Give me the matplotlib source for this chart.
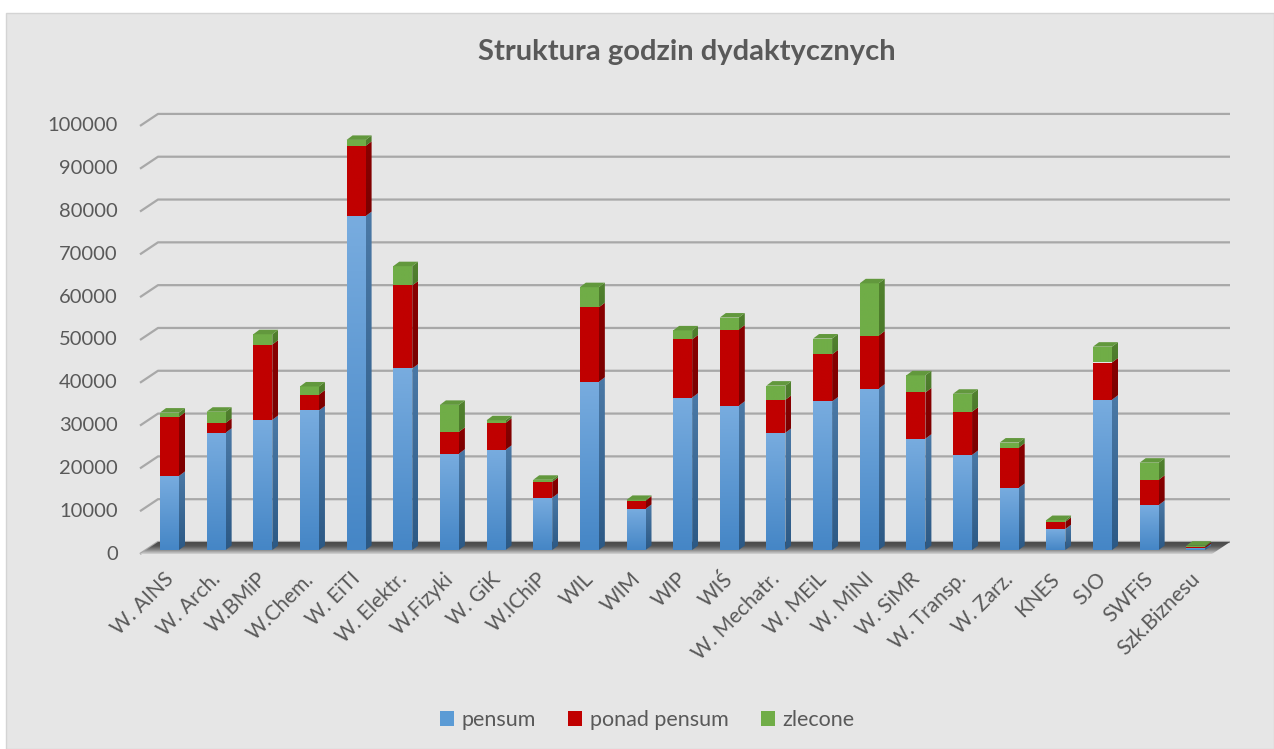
import matplotlib.pyplot as plt
import numpy as np
from matplotlib.patches import Polygon, Rectangle, Patch
from matplotlib.colors import LinearSegmentedColormap

plt.rcParams['font.family'] = ['Lato', 'DejaVu Sans']

categories = ["W. AINS", "W. Arch.", "W.BMiP", "W.Chem.", "W. EiTI", "W. Elektr.",
              "W.Fizyki", "W. GiK", "W.IChiP", "WIL", "WIM", "WIP", "WIŚ",
              "W. Mechatr.", "W. MEiL", "W. MiNI", "W. SiMR", "W. Transp.",
              "W. Zarz.", "KNES", "SJO", "SWFiS", "Szk.Biznesu"]
pensum = [17300, 27400, 30400, 32600, 78000, 42400, 22500, 23400, 12200, 39300,
          9600, 35600, 33700, 27400, 34700, 37700, 26000, 22200, 14500, 4900,
          35100, 10500, 500]
ponad_pensum = [13800, 2300, 17600, 3700, 16400, 19400, 5100, 6300, 3700, 17400,
                1900, 13600, 17800, 7700, 11000, 12400, 10800, 10100, 9400, 1700,
                8700, 5900, 300]
zlecone = [1000, 2600, 2400, 1900, 1400, 4500, 6300, 600, 500, 4700,
           200, 2100, 2800, 3300, 3700, 12200, 4000, 4200, 1200, 400,
           3700, 4000, 200]
series_names = ["pensum", "ponad pensum", "zlecone"]
y_ticks = list(range(0, 100001, 10000))

W, H = 1274, 749
PX_X = 1 / 46.65      # category units per pixel
PX_Y = 233.6          # value units per pixel
X0_PX, Y0_PX = 169.5, 550   # first bar centre / bar base in pixels

TEXT = '#595959'
GRID = '#a8a8a8'

# face colours: (front top, front bottom, side top, side bottom, top)
styles = [
    ('#78acdf', '#4586c6', '#4b79a6', '#2c5985', None),
    ('#c00000', '#c00000', '#8a0000', '#7a0000', None),
    ('#70ad47', '#70ad47', '#52822f', '#4b7a2b', '#62983d'),
]


def grad_fill(ax, verts, c_top, c_bot, z):
    poly = Polygon(verts, closed=True, facecolor='none', edgecolor='none')
    ax.add_patch(poly)
    xs = [v[0] for v in verts]
    ys = [v[1] for v in verts]
    cmap = LinearSegmentedColormap.from_list('g', [c_bot, c_top])
    im = ax.imshow(np.linspace(0, 1, 64).reshape(-1, 1), cmap=cmap, origin='lower',
                   extent=[min(xs), max(xs), min(ys), max(ys)], aspect='auto',
                   interpolation='bilinear', zorder=z)
    im.set_clip_path(poly)


fig = plt.figure(figsize=(W / 100, H / 100), dpi=100)
fig.patch.set_facecolor('white')
fig.add_artist(Rectangle((6 / W, 0), (W - 6) / W, (H - 13) / H, transform=fig.transFigure,
                         facecolor='#e6e6e6', edgecolor='#d4d4d4', lw=1, zorder=0))

ax = fig.add_axes([0, 0, 1, 1])
ax.patch.set_visible(False)
ax.axis('off')

# depth of walls and bars
wall_dx, wall_dy = 18 * PX_X, 12 * PX_Y
front_off = -4 * PX_Y
x_left = (140 - X0_PX) * PX_X
x_right = (1230 - X0_PX) * PX_X
x_floor_front_right = (1212 - X0_PX) * PX_X

for v in y_ticks:
    yf = v + front_off
    ax.plot([x_left, x_left + wall_dx, x_right], [yf, yf + wall_dy, yf + wall_dy],
            color=GRID, lw=1.6, zorder=1, solid_capstyle='butt')
    ax.text((118 - X0_PX) * PX_X, yf, str(v), ha='right', va='center',
            fontsize=14.5, color=TEXT)

# floor
floor = [(x_left, front_off), (x_floor_front_right, front_off),
         (x_right, front_off + wall_dy), (x_left + wall_dx, front_off + wall_dy)]
poly = Polygon(floor, closed=True, facecolor='none', edgecolor='none')
ax.add_patch(poly)
fcmap = LinearSegmentedColormap.from_list('floor', ['#d4d4d4', '#8a8a8a', '#555555', '#4a4a4a'])
im = ax.imshow(np.linspace(0, 1, 64).reshape(-1, 1), cmap=fcmap, origin='lower',
               extent=[x_left, x_right, front_off, front_off + wall_dy], aspect='auto',
               interpolation='bilinear', zorder=2)
im.set_clip_path(poly)

# bars
hw = 9.5 * PX_X
bdx, bdy = 6 * PX_X, 4.5 * PX_Y
data = [pensum, ponad_pensum, zlecone]
for i in range(len(categories)):
    bottom = 0
    for s, vals in enumerate(data):
        top = bottom + vals[i]
        ft, fb, st, sb, tc = styles[s]
        front = [(i - hw, bottom), (i + hw, bottom), (i + hw, top), (i - hw, top)]
        side = [(i + hw, bottom), (i + hw + bdx, bottom + bdy),
                (i + hw + bdx, top + bdy), (i + hw, top)]
        grad_fill(ax, front, ft, fb, 3)
        grad_fill(ax, side, st, sb, 3)
        if s == len(data) - 1:
            ax.add_patch(Polygon([(i - hw, top), (i + hw, top), (i + hw + bdx, top + bdy),
                                  (i - hw + bdx, top + bdy)], closed=True,
                                 facecolor=tc, edgecolor='none', zorder=3))
        bottom = top
    ax.text(i + 1 * PX_X, -26 * PX_Y, categories[i], rotation=45, rotation_mode='anchor',
            ha='right', va='center', fontsize=15, color=TEXT)

ax.set_xlim(-X0_PX * PX_X, (W - X0_PX) * PX_X)
ax.set_ylim(-(H - Y0_PX) * PX_Y, Y0_PX * PX_Y)

fig.text(687 / W, 1 - 52 / H, "Struktura godzin dydaktycznych", ha='center', va='center',
         fontsize=21, fontweight='bold', color=TEXT)

handles = [Patch(facecolor='#5b9bd5', edgecolor='none'),
           Patch(facecolor=styles[1][0], edgecolor='none'),
           Patch(facecolor=styles[2][0], edgecolor='none')]
fig.legend(handles, series_names, loc='center', bbox_to_anchor=(647 / W, 1 - 720 / H),
           ncol=3, frameon=False, fontsize=15.5, labelcolor=TEXT,
           handlelength=0.65, handleheight=0.65, handletextpad=0.35, columnspacing=1.5)

fig.savefig('out.png', dpi=100, facecolor=fig.get_facecolor())
